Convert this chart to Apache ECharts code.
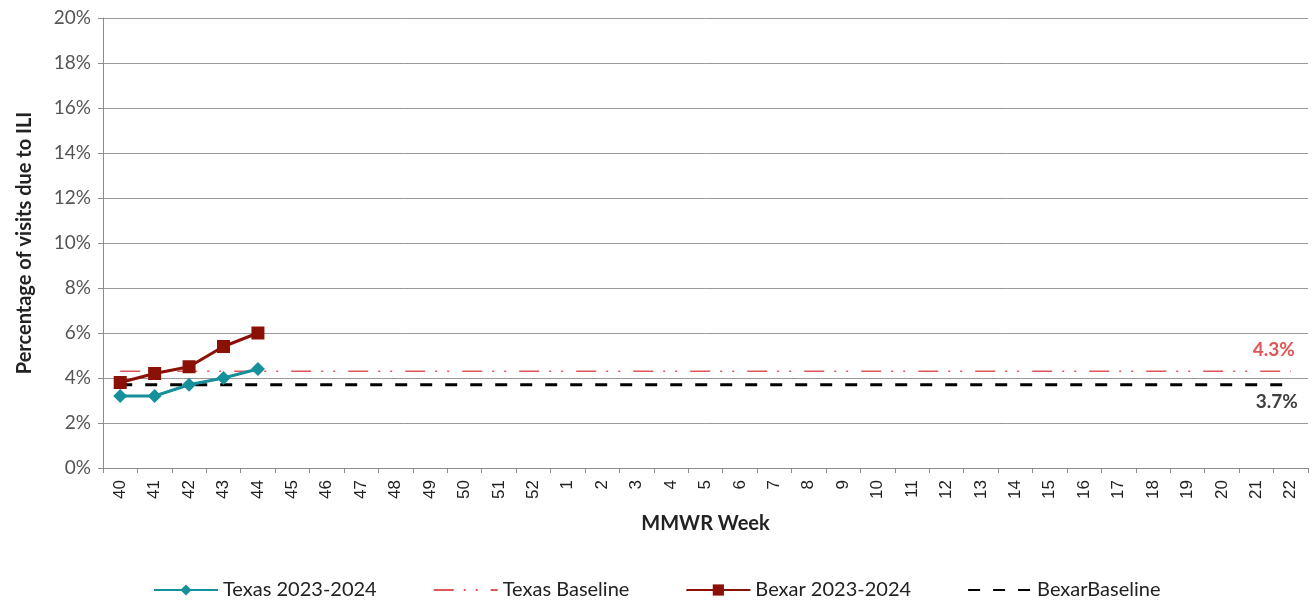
<!DOCTYPE html>
<html><head><meta charset="utf-8">
<script src="https://cdn.jsdelivr.net/npm/echarts@6/dist/echarts.min.js"></script>
<style>html,body{margin:0;padding:0;background:#fff}#c{width:1315px;height:605px}</style>
</head><body><div id="c"></div>
<script>
const weeks = ['40','41','42','43','44','45','46','47','48','49','50','51','52','1','2','3','4','5','6','7','8','9','10','11','12','13','14','15','16','17','18','19','20','21','22'];
const texas = [3.2, 3.2, 3.7, 4.0, 4.4];
const bexar = [3.8, 4.2, 4.5, 5.4, 6.0];
const texasBaselineValue = 4.3;
const bexarBaselineValue = 3.7;
const texasBaselineLabel = '4.3%';
const bexarBaselineLabel = '3.7%';

const texasBaseline = weeks.map(() => texasBaselineValue);
const bexarBaseline = weeks.map(() => bexarBaselineValue);
const FONT = 'Lato, Carlito, "Liberation Sans", sans-serif';
const lastWeek = weeks[weeks.length - 1];

function endMark(value, txt, pos, color, offset) {
  return {
    silent: true,
    symbol: 'rect', symbolSize: 1,
    itemStyle: {color: 'rgba(0,0,0,0)'},
    label: {show: true, position: pos, formatter: txt, color: color, fontWeight: 'bold', fontSize: 19, fontFamily: FONT, offset: offset},
    data: [{coord: [lastWeek, value]}]
  };
}

const chart = echarts.init(document.getElementById('c'));
chart.setOption({
  animation: false,
  grid: {left: 103, right: 7, top: 18, bottom: 137},
  legend: {
    bottom: 0, left: 148, itemWidth: 64, itemHeight: 14, itemGap: 56,
    textStyle: {fontFamily: FONT, fontSize: 20, color: '#222'},
    data: [
      {name: 'Texas 2023-2024'},
      {name: 'Texas Baseline', itemStyle: {opacity: 0}},
      {name: 'Bexar 2023-2024'},
      {name: 'BexarBaseline', itemStyle: {opacity: 0}}
    ]
  },
  xAxis: {
    type: 'category', data: weeks, boundaryGap: true,
    name: 'MMWR Week', nameLocation: 'middle', nameGap: 46,
    nameTextStyle: {fontFamily: FONT, fontSize: 20, fontWeight: 'bold', color: '#222'},
    axisLine: {lineStyle: {color: '#8c8c8c', width: 1}},
    axisTick: {show: true, alignWithLabel: false, length: 5, lineStyle: {color: '#8c8c8c'}},
    axisLabel: {rotate: 90, fontFamily: '"Liberation Sans", Arial, sans-serif', fontSize: 17, color: '#222', margin: 12, interval: 0},
    splitLine: {show: false}
  },
  yAxis: {
    type: 'value', min: 0, max: 20, interval: 2,
    name: 'Percentage of visits due to ILI', nameLocation: 'middle', nameGap: 68,
    nameTextStyle: {fontFamily: FONT, fontSize: 20, fontWeight: 'bold', color: '#222'},
    axisLine: {show: true, lineStyle: {color: '#8c8c8c', width: 1}},
    axisTick: {show: true, inside: false, length: 5, lineStyle: {color: '#8c8c8c'}},
    axisLabel: {formatter: '{value}%', fontFamily: FONT, fontSize: 19, color: '#555', margin: 12},
    splitLine: {show: true, lineStyle: {color: '#999', width: 1}}
  },
  series: [
    {
      name: 'Texas 2023-2024', type: 'line', data: texas,
      symbol: 'diamond', symbolSize: 14,
      lineStyle: {color: '#16909a', width: 3},
      itemStyle: {color: '#16909a'}, z: 4
    },
    {
      name: 'Texas Baseline', type: 'line', data: texasBaseline,
      symbol: 'none',
      lineStyle: {color: '#e05555', width: 1.5, type: [20, 10, 2, 10, 2, 13]},
      itemStyle: {color: '#e05555'}, z: 2,
      markPoint: endMark(texasBaselineValue, texasBaselineLabel, 'top', '#e05555', [-17, -6])
    },
    {
      name: 'Bexar 2023-2024', type: 'line', data: bexar,
      symbol: 'rect', symbolSize: 13,
      lineStyle: {color: '#8b1005', width: 3},
      itemStyle: {color: '#8b1005'}, z: 5
    },
    {
      name: 'BexarBaseline', type: 'line', data: bexarBaseline,
      symbol: 'none',
      lineStyle: {color: '#000', width: 3, type: [12, 13]},
      itemStyle: {color: '#000'}, z: 3,
      markPoint: endMark(bexarBaselineValue, bexarBaselineLabel, 'bottom', '#404040', [-14, 2])
    }
  ]
});
</script></body></html>
